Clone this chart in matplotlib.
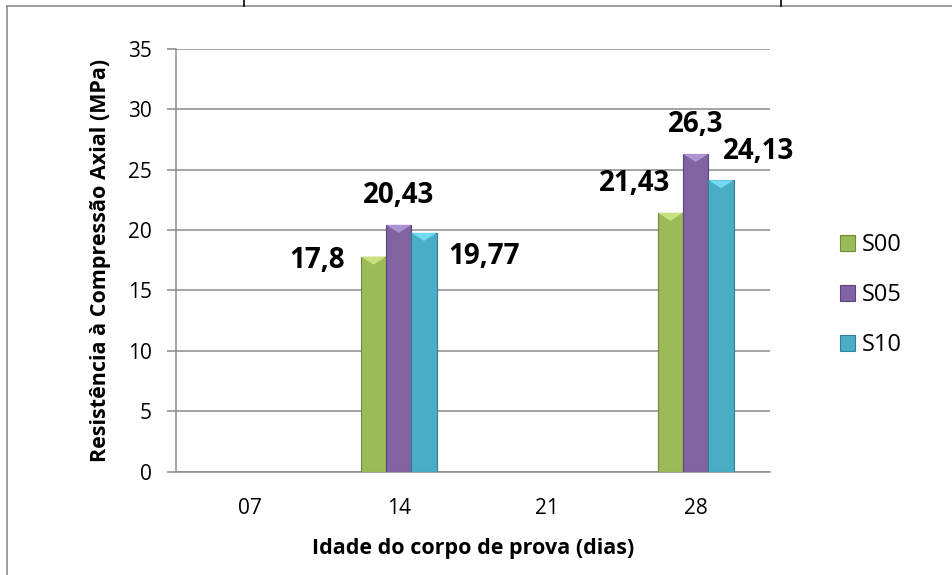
import numpy as np
import matplotlib
matplotlib.use("Agg")
import matplotlib.pyplot as plt
from matplotlib.lines import Line2D
from matplotlib.patches import Polygon

plt.rcParams["font.family"] = ["Open Sans", "DejaVu Sans"]

# compressive strength by age (MPa)
ages = ["07", "14", "21", "28"]
series = ["S00", "S05", "S10"]
s00 = [None, 17.8, None, 21.43]
s05 = [None, 20.43, None, 26.3]
s10 = [None, 19.77, None, 24.13]

colors = ["#9BBB59", "#8064A2", "#4BACC6"]
tops = ["#C9E07E", "#AE93D2", "#72DAF2"]
edges = ["#6F8A3A", "#5A447A", "#2E8199"]

# label offsets in pixels relative to each bar top (series, category)
label_offsets = {
    (0, 1): (-56, -4), (1, 1): (0, 29), (2, 1): (60, -24),
    (0, 3): (-36, 29), (1, 3): (0, 30), (2, 3): (38, 29),
}

fig = plt.figure(figsize=(9.52, 5.75), dpi=100)
ax = fig.add_axes([0.1849, 0.18, 0.6239, 0.7348])

x = np.arange(len(ages))
width = 0.17
offsets = [-width, 0, width]
ymax = 35
ax.set_xlim(-0.5, len(ages) - 0.5)
ax.set_ylim(0, ymax)

# bevel depth: 8 px in data units
bevel = ymax * 8 / (0.7348 * 575)

for i, (name, vals) in enumerate(zip(series, [s00, s05, s10])):
    idx = [j for j, v in enumerate(vals) if v is not None]
    hs = [vals[j] for j in idx]
    xs = x[idx] + offsets[i]
    bars = ax.bar(xs, hs, width=width, color=colors[i], edgecolor=edges[i],
                  linewidth=0.8, label=name, zorder=3)
    for b, j, h in zip(bars, idx, hs):
        x0 = b.get_x()
        x1 = x0 + b.get_width()
        ax.add_patch(Polygon([[x0, h], [x1, h], [(x0 + x1) / 2, h - bevel]],
                             closed=True, facecolor=tops[i], edgecolor="none",
                             zorder=4))
        dx, dy = label_offsets[(i, j)]
        ax.annotate(f"{h:g}".replace(".", ","), xy=(x0 + width / 2, h),
                    xytext=(dx, dy), textcoords="offset pixels",
                    ha="center", va="center", fontsize=20, fontweight="bold",
                    color="black", zorder=5)

grid_col = "#8A8A8A"
ax.set_yticks(range(0, 36, 5))
ax.yaxis.grid(True, color=grid_col, linewidth=1.1, zorder=0)
ax.set_axisbelow(True)
ax.set_xticks(x)
ax.set_xticklabels(ages)
ax.tick_params(axis="x", length=0, pad=19, labelsize=15)
ax.tick_params(axis="y", length=6.5, width=1.1, color=grid_col, pad=11,
               labelsize=15)
for s in ["top", "right"]:
    ax.spines[s].set_visible(False)
for s in ["left", "bottom"]:
    ax.spines[s].set_color(grid_col)
    ax.spines[s].set_linewidth(1.1)

ax.set_ylabel("Resistência à Compressão Axial (MPa)", fontsize=15.5,
              fontweight="bold", labelpad=12)
ax.set_xlabel("Idade do corpo de prova (dias)", fontsize=15.5,
              fontweight="bold", labelpad=14)

ax.legend(loc="center left", bbox_to_anchor=(0.882, 0.487),
          bbox_transform=fig.transFigure, frameon=False, fontsize=17,
          handlelength=0.65, handleheight=0.65, handletextpad=0.3,
          labelspacing=1.1, borderpad=0, borderaxespad=0)

# chart frame
fig.add_artist(Line2D([7 / 952, 1], [1 - 6 / 575] * 2, color="#8C8C8C",
                      linewidth=1.2, transform=fig.transFigure))
fig.add_artist(Line2D([7 / 952] * 2, [0, 1 - 6 / 575], color="#8C8C8C",
                      linewidth=1.2, transform=fig.transFigure))
for xp in [244, 781]:
    fig.add_artist(Line2D([xp / 952] * 2, [1, 1 - 6 / 575], color="black",
                          linewidth=1.2, transform=fig.transFigure))

fig.savefig("out.png", dpi=100)
